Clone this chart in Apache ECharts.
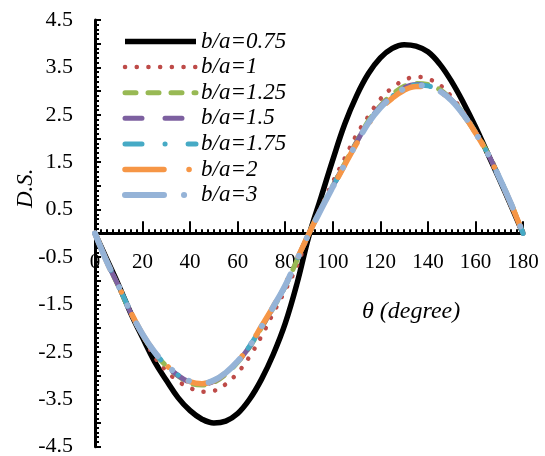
<!DOCTYPE html>
<html lang="en">
<head>
<meta charset="UTF-8">
<title>D.S. vs theta</title>
<script src="https://cdn.jsdelivr.net/npm/echarts@6/dist/echarts.min.js"></script>
<style>
  *{margin:0;padding:0}
  html,body{width:100%;height:100%;background:#fff}
  #main{width:545px;height:456px}
</style>
</head>
<body>
<div id="main"></div>
<script>
// theta in degrees, 5 degree steps
var theta = [0,5,10,15,20,25,30,35,40,45,50,55,60,65,70,75,80,85,90,95,100,105,110,115,120,125,130,135,140,145,150,155,160,165,170,175,180];

// values
var ba075 = [0,-0.55,-1.1,-1.68,-2.2,-2.7,-3.1,-3.47,-3.74,-3.92,-4.0,-3.96,-3.8,-3.5,-3.08,-2.55,-1.9,-1.05,-0.05,0.75,1.55,2.3,2.9,3.37,3.7,3.9,3.98,3.95,3.83,3.57,3.2,2.75,2.25,1.7,1.15,0.58,0];
var ba1 = [0,-0.58,-1.12,-1.66,-2.15,-2.6,-2.9,-3.12,-3.26,-3.34,-3.32,-3.18,-2.94,-2.6,-2.17,-1.68,-1.2,-0.68,0,0.55,1.08,1.58,2.08,2.47,2.83,3.07,3.23,3.3,3.26,3.13,2.88,2.55,2.15,1.72,1.2,0.62,0];
var ba125 = [0,-0.6,-1.13,-1.67,-2.14,-2.52,-2.8,-3.01,-3.16,-3.2,-3.14,-2.97,-2.72,-2.4,-1.99,-1.57,-1.12,-0.56,0,0.52,1.0,1.47,1.93,2.37,2.69,2.93,3.1,3.16,3.14,3.03,2.82,2.52,2.14,1.71,1.19,0.63,0];
var ba15 = [0,-0.6,-1.12,-1.67,-2.13,-2.51,-2.79,-3.0,-3.14,-3.18,-3.12,-2.95,-2.71,-2.39,-1.98,-1.56,-1.11,-0.55,0,0.51,0.99,1.46,1.92,2.35,2.67,2.9,3.07,3.14,3.12,3.01,2.81,2.51,2.13,1.7,1.18,0.62,0];
var ba175 = [0,-0.6,-1.12,-1.66,-2.13,-2.51,-2.78,-2.99,-3.13,-3.17,-3.11,-2.95,-2.71,-2.38,-1.98,-1.55,-1.1,-0.55,0,0.51,0.98,1.45,1.91,2.34,2.66,2.89,3.06,3.13,3.11,3.0,2.8,2.5,2.12,1.7,1.18,0.62,0];
var ba2 = [0,-0.6,-1.12,-1.66,-2.13,-2.5,-2.78,-2.99,-3.13,-3.17,-3.11,-2.94,-2.7,-2.37,-1.96,-1.54,-1.08,-0.54,0,0.5,0.97,1.44,1.89,2.31,2.62,2.85,3.02,3.1,3.08,2.99,2.79,2.5,2.12,1.69,1.17,0.61,0];
var ba3 = [0,-0.6,-1.12,-1.66,-2.13,-2.5,-2.77,-2.98,-3.12,-3.16,-3.1,-2.94,-2.7,-2.38,-1.97,-1.55,-1.1,-0.55,0,0.5,0.98,1.45,1.9,2.33,2.65,2.88,3.05,3.12,3.1,3.0,2.8,2.5,2.12,1.7,1.18,0.62,0];

var names = ['b/a=0.75','b/a=1','b/a=1.25','b/a=1.5','b/a=1.75','b/a=2','b/a=3'];
var values = [ba075, ba1, ba125, ba15, ba175, ba2, ba3];
var colors = ['#000000','#be4b48','#98b954','#7d60a0','#46aac5','#f69646','#95b3d7'];
var dashes = ['solid', [0.1, 11.6], [11, 12], [17, 23], [17, 23, 0.1, 23], [39, 25, 0.1, 25], [39, 20, 0.1, 20, 0.1, 20]];
var widths = [5.5, 4.5, 5, 5, 5, 5.5, 6];

var font = 'Liberation Serif';
var gridTop = 20, gridBottom = 9.3;
var zeroOffset = -(456 - gridBottom - gridTop) / 2; // x axis sits on D.S. = 0

var chart = echarts.init(document.getElementById('main'));

var series = names.map(function (n, i) {
    return {
        name: n,
        type: 'line',
        smooth: 0.4,
        symbol: 'none',
        showSymbol: false,
        lineStyle: {
            color: colors[i],
            width: widths[i],
            type: dashes[i],
            cap: i === 0 ? 'butt' : 'round'
        },
        itemStyle: {color: colors[i]},
        data: theta.map(function (t, k) { return [t, values[i][k]]; })
    };
});

var option = {
    backgroundColor: '#fff',
    animation: false,
    grid: {left: 95, right: 22, top: gridTop, bottom: gridBottom, outerBoundsMode: 'none', containLabel: false},
    legend: {
        orient: 'vertical',
        left: 122,
        top: 30,
        padding: 0,
        itemWidth: 71,
        itemHeight: 22,
        itemGap: 2.6,
        textStyle: {fontFamily: font, fontStyle: 'italic', fontSize: 23, lineHeight: 22, color: '#000'},
        lineStyle: {width: 'inherit'},
        itemStyle: {opacity: 0},
        data: names
    },
    xAxis: {
        type: 'value',
        min: 0,
        max: 180,
        interval: 20,
        position: 'bottom',
        offset: zeroOffset,
        axisLine: {onZero: false, lineStyle: {color: '#000', width: 3}},
        axisTick: {inside: true, length: 12, lineStyle: {color: '#000', width: 2}},
        minorTick: {show: true, splitNumber: 8, length: 4, lineStyle: {color: '#000', width: 2}},
        axisLabel: {fontFamily: font, fontSize: 21, color: '#000', margin: 19, showMinLabel: true, showMaxLabel: true},
        splitLine: {show: false}
    },
    yAxis: {
        type: 'value',
        min: -4.5,
        max: 4.5,
        interval: 0.5,
        axisLine: {show: true, onZero: false, lineStyle: {color: '#000', width: 3}},
        axisTick: {inside: true, length: 6, lineStyle: {color: '#000', width: 2}},
        minorTick: {show: true, splitNumber: 5, length: 4, lineStyle: {color: '#000', width: 2}},
        axisLabel: {
            fontFamily: font, fontSize: 22, color: '#000', margin: 22,
            formatter: function (v) {
                return Math.abs(Math.round(v * 2)) % 2 === 1 ? v.toFixed(1) : '';
            }
        },
        splitLine: {show: false}
    },
    graphic: [
        {
            type: 'text',
            left: 362,
            top: 300,
            style: {text: 'θ (degree)', font: 'italic 24px "Liberation Serif"', fill: '#000'}
        },
        {
            type: 'text',
            x: 14,
            y: 208,
            rotation: Math.PI / 2,
            style: {text: 'D.S.', font: 'italic 23px "Liberation Serif"', fill: '#000'}
        }
    ],
    series: series
};
chart.setOption(option);
</script>
</body>
</html>
